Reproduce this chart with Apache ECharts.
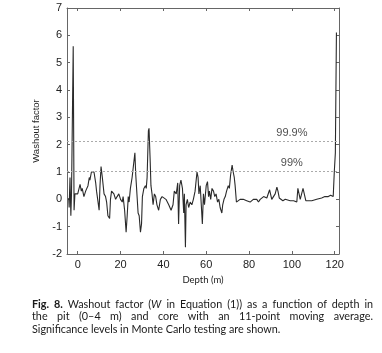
<!DOCTYPE html>
<html>
<head>
<meta charset="utf-8">
<script src="https://cdn.jsdelivr.net/npm/echarts@6/dist/echarts.min.js"></script>
<style>
  html, body { margin: 0; padding: 0; background: #fff; }
  #chart { position: absolute; left: 0; top: 0; width: 382px; height: 353px; }
  .caption {
    position: absolute; left: 32px; top: 298px; width: 341px;
    font-family: Lato, "Open Sans", sans-serif; font-size: 10.8px; color: #1a1a1a;
    line-height: 12.3px;
  }
  .caption .j { text-align: justify; text-align-last: justify; white-space: nowrap; }
  .caption b { font-weight: bold; }
</style>
</head>
<body>
<div id="chart"></div>
<div class="caption">
  <div class="j"><b>Fig. 8.</b> Washout factor (<i>W</i> in Equation (1)) as a function of depth in</div>
  <div class="j">the pit (0–4 m) and core with an 11-point moving average.</div>
  <div>Significance levels in Monte Carlo testing are shown.</div>
</div>
<script>
// depth (m) and washout factor
const depth = [
  -4.2, -4.0, -3.6, -3.2, -2.9, -2.6, -2.1, -1.7, -1.3, -0.5,
  0, 1.1, 1.7, 2.1, 2.9, 3.7, 4.8, 5.4, 5.7, 6.4,
  7.0, 7.6, 8.4, 8.8, 9.5, 10.0, 10.4, 10.9, 11.5, 12.3,
  13.0, 13.5, 14.1, 14.9, 15.3, 15.8, 16.9, 17.7, 18.4, 19.2,
  20.0, 20.8, 21.2, 21.9, 22.6, 23.1, 23.6, 24.0, 24.6, 25.4,
  26.7, 27.1, 27.8, 28.2, 28.7, 29.3, 29.8, 30.2, 30.9, 31.6,
  32.0, 32.4, 33.0, 33.3, 33.8, 34.2, 34.7, 35.2, 35.8, 36.4,
  37.0, 37.8, 38.6, 39.4, 40.1, 41.2, 42.5, 43.6, 44.5, 45.1,
  46.0, 46.7, 47.1, 47.6, 48.2, 48.9, 49.5, 49.8, 50.3, 50.6,
  51.2, 51.8, 52.5, 53.3, 54.0, 54.8, 55.7, 56.2, 56.6, 57.2,
  57.7, 58.2, 58.7, 59.2, 60.0, 60.6, 61.1, 61.5, 62.1, 62.7,
  63.4, 64.0, 64.6, 65.3, 65.9, 66.5, 67.3, 67.7, 68.3, 68.9,
  69.5, 70.3, 70.8, 71.4, 72.1, 72.6, 73.1, 73.5, 74.1, 75.0,
  75.8, 76.5, 77.3, 78.1, 78.9, 79.7, 80.5, 81.3, 82.0, 82.8,
  83.6, 84.4, 85.2, 86.0, 86.8, 87.5, 88.3, 89.1, 89.6, 90.2,
  90.6, 91.4, 92.2, 93.0, 93.5, 94.1, 94.9, 95.8, 96.9, 97.7,
  99.2, 100.8, 101.6, 102.3, 102.8, 103.4, 103.9, 104.4, 105.2, 105.6,
  106.1, 106.5, 107.8, 109.3, 111.6, 113.9, 115.4, 116.2, 117.0, 118.1,
  118.8, 119.3, 119.8, 120.3, 120.8
];
const washout = [
  0.05, -0.3, 0.8, -0.6, 0.2, 2.2, 5.6, -0.4, 0.2, 0.15,
  0.2, 0.55, 0.3, 0.4, 0.1, 0.3, 0.5, 0.8, 0.7, 1.0,
  0.95, 1.0, 0.6, 0.3, -0.1, -0.4, 0.5, 1.2, 0.8, 0.2,
  0.1, -0.1, -0.6, -0.7, 0.0, 0.3, 0.2, 0.0, 0.1, 0.2,
  0.0, -0.1, 0.1, -0.4, -1.2, -0.6, 0.1, -0.1, 0.4, 0.8,
  1.7, 0.9, 0.0, -0.5, -0.6, -1.2, -0.9, 0.1, 0.4, 0.5,
  0.4, 0.8, 2.5, 2.6, 1.5, 0.5, 0.2, -0.2, 0.2, 0.1,
  -0.2, -0.4, 0.0, 0.1, 0.1, 0.0, -0.2, -0.4, -0.2, 0.3,
  0.2, 0.6, -0.9, 0.5, 0.7, 0.4, -0.5, 0.2, -1.75, -0.2,
  0.0, -0.3, -0.1, -0.2, 0.0, 0.3, 1.0, 0.8, 0.2, 0.5,
  -0.2, -0.9, 0.2, -0.2, 0.5, 0.65, 0.1, 0.3, 0.0, 0.4,
  0.3, 0.1, 0.2, -0.1, 0.0, -0.3, -0.5, -0.2, 0.0, 0.1,
  0.3, 0.5, 0.4, 0.9, 1.25, 1.0, 0.8, 0.5, -0.1, -0.05,
  0.0, -0.05, 0.0, 0.05, -0.05, 0.0, -0.1, -0.05, 0.0, -0.05,
  0.0, -0.1, 0.0, 0.05, 0.1, 0.15, 0.05, 0.1, 0.35, 0.35,
  0.0, 0.1, 0.2, 0.45, 0.3, 0.05, 0.0, -0.05, 0.0, -0.05,
  -0.05, -0.05, -0.1, -0.1, 0.4, 0.4, 0.0, -0.05, 0.4, 0.45,
  0.45, -0.05, -0.05, -0.05, 0.0, 0.05, 0.1, 0.15, 0.1, 0.15,
  0.15, 0.1, 1.0, 1.7, 6.1
];
// Monte Carlo significance levels
const sigNames = ['99.9%', '99%'];
const sigLevels = [2.12, 1.03];
const sigLabelDepth = 100;
const xTicks = [0, 20, 40, 60, 80, 100, 120];

const chart = echarts.init(document.getElementById('chart'));
const axisCol = '#666';
const tickFont = { color: '#222', fontFamily: 'Liberation Sans, Arial, sans-serif', fontSize: 11 };
const boxLine = { show: true, onZero: false, lineStyle: { color: axisCol, width: 1 } };

const option = {
  animation: false,
  grid: { left: 67, right: 43, top: 8, bottom: 99 },
  xAxis: [
    {
      type: 'value', min: -5, max: 122,
      name: 'Depth (m)', nameLocation: 'middle', nameGap: 19,
      nameTextStyle: { color: '#222', fontFamily: 'Lato, sans-serif', fontSize: 9.5 },
      axisLine: boxLine,
      axisTick: { show: true, inside: true, length: 3, customValues: xTicks, lineStyle: { color: axisCol } },
      axisLabel: Object.assign({ customValues: xTicks, margin: 5 }, tickFont),
      splitLine: { show: false }
    },
    {
      type: 'value', min: -5, max: 122, position: 'top',
      axisLine: boxLine,
      axisTick: { show: true, inside: true, length: 3, customValues: xTicks, lineStyle: { color: axisCol } },
      axisLabel: { show: false },
      splitLine: { show: false }
    }
  ],
  yAxis: [
    {
      type: 'value', min: -2, max: 7, interval: 1,
      name: 'Washout factor', nameLocation: 'middle', nameGap: 21,
      nameTextStyle: { color: '#222', fontFamily: 'Liberation Sans, Arial, sans-serif', fontSize: 9.5 },
      axisLine: boxLine,
      axisTick: { show: true, inside: true, length: 3, lineStyle: { color: axisCol } },
      axisLabel: Object.assign({ margin: 5 }, tickFont),
      splitLine: { show: false }
    },
    {
      type: 'value', min: -2, max: 7, interval: 1, position: 'right',
      axisLine: boxLine,
      axisTick: { show: true, inside: true, length: 3, lineStyle: { color: axisCol } },
      axisLabel: { show: false },
      splitLine: { show: false }
    }
  ],
  series: [
    {
      type: 'line',
      data: depth.map((d, i) => [d, washout[i]]),
      showSymbol: false,
      lineStyle: { color: '#2a2a2a', width: 1.1 },
      z: 3,
      markLine: {
        silent: true, symbol: 'none', label: { show: false },
        lineStyle: { color: '#aaa', type: [2, 2], width: 1 },
        data: sigLevels.map(v => ({ yAxis: v }))
      }
    },
    {
      type: 'scatter',
      symbolSize: 0,
      data: sigLevels.map((v, i) => ({ value: [sigLabelDepth, v], name: sigNames[i] })),
      label: {
        show: true, position: 'top', distance: 3,
        formatter: p => p.name,
        color: '#222', fontFamily: 'Liberation Sans, Arial, sans-serif', fontSize: 11
      },
      silent: true
    }
  ]
};
chart.setOption(option);
</script>
</body>
</html>
